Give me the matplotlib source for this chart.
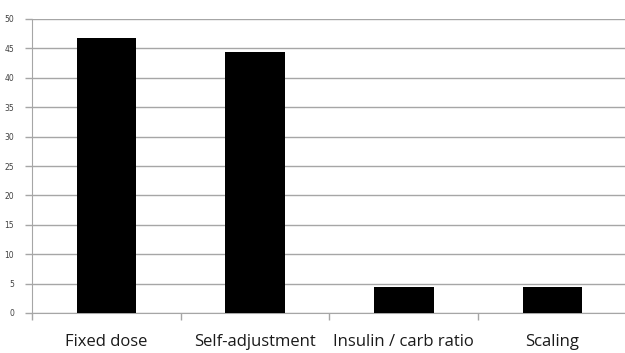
import matplotlib
matplotlib.use("Agg")
import matplotlib.pyplot as plt
import numpy as np

categories = ["Fixed dose", "Self-adjustment", "Insulin / carb ratio", "Scaling"]
values = [46.7, 44.4, 4.4, 4.4]
yticks = [0, 5, 10, 15, 20, 25, 30, 35, 40, 45, 50]

fig = plt.figure(figsize=(6.25, 3.53), dpi=100)
ax = fig.add_axes([32/625, 40/353, 595/625, 294/353])

x = np.arange(len(categories))
ax.bar(x, values, width=0.4, color="black", zorder=3)
ax.set_xlim(-0.5, len(categories) - 0.5)
ax.set_ylim(0, 50)
ax.set_yticks(yticks)
ax.set_yticklabels([str(t) for t in yticks], fontsize=5.5, color="#404040", family="DejaVu Sans")
ax.yaxis.grid(True, color="#a6a6a6", linewidth=1.0, zorder=0)
ax.set_axisbelow(True)

ax.set_xticks(x)
ax.set_xticklabels(categories, fontsize=12, family="Open Sans", color="#1a1a1a")
ax.tick_params(axis="x", which="major", length=0, pad=15)
ax.set_xticks(np.arange(-0.5, len(categories) + 0.5, 1), minor=True)
ax.tick_params(axis="x", which="minor", length=5, color="#a6a6a6", width=1)
ax.tick_params(axis="y", length=5, color="#a6a6a6", width=1, pad=8)

for s in ["top", "right"]:
    ax.spines[s].set_visible(False)
ax.spines["left"].set_color("#a6a6a6")
ax.spines["bottom"].set_color("#a6a6a6")

fig.savefig("out.png", dpi=100)
